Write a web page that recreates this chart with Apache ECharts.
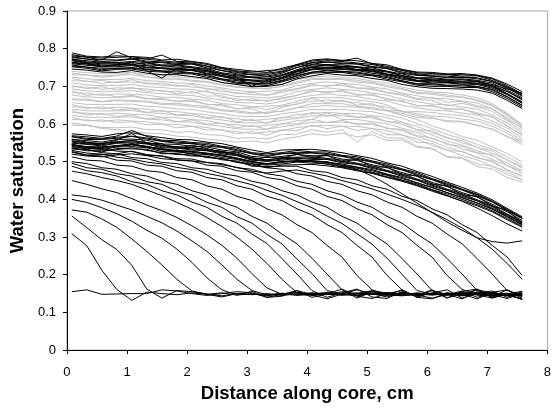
<!DOCTYPE html>
<html><head><meta charset="utf-8">
<script src="https://cdn.jsdelivr.net/npm/echarts@6/dist/echarts.min.js"></script>
<style>html,body{margin:0;padding:0;background:#fff}#c{width:554px;height:408px}</style>
</head><body><div id="c"></div>
<script>
// Distance along core (cm) at which each saturation profile was sampled
const distance = [0.08,0.33,0.58,0.83,1.08,1.33,1.58,1.83,2.08,2.33,2.58,2.83,3.08,3.33,3.58,3.83,4.08,4.33,4.58,4.83,5.08,5.33,5.58,5.83,6.08,6.33,6.58,6.83,7.08,7.33,7.58];

const xTickLabels = ['0','1','2','3','4','5','6','7','8'];
const yTickLabels = ['0','0.1','0.2','0.3','0.4','0.5','0.6','0.7','0.8','0.9'];

// Upper black band of profiles
const topBand = [
[0.789,0.780,0.778,0.781,0.779,0.777,0.770,0.772,0.766,0.761,0.750,0.745,0.741,0.737,0.748,0.758,0.770,0.773,0.769,0.768,0.761,0.757,0.745,0.738,0.737,0.733,0.734,0.730,0.722,0.706,0.686],
[0.781,0.777,0.770,0.792,0.775,0.772,0.768,0.764,0.762,0.754,0.747,0.739,0.735,0.735,0.740,0.755,0.763,0.768,0.766,0.762,0.758,0.750,0.742,0.733,0.730,0.731,0.727,0.728,0.716,0.699,0.679],
[0.776,0.773,0.766,0.768,0.772,0.764,0.763,0.758,0.759,0.749,0.742,0.733,0.731,0.727,0.735,0.750,0.758,0.765,0.760,0.759,0.751,0.747,0.735,0.729,0.727,0.723,0.724,0.720,0.713,0.695,0.674],
[0.772,0.768,0.764,0.763,0.766,0.763,0.757,0.757,0.752,0.747,0.736,0.731,0.725,0.725,0.731,0.744,0.757,0.758,0.757,0.752,0.749,0.740,0.733,0.723,0.723,0.719,0.720,0.716,0.709,0.690,0.670],
[0.770,0.763,0.760,0.760,0.764,0.757,0.755,0.751,0.750,0.741,0.734,0.725,0.723,0.719,0.729,0.740,0.751,0.756,0.752,0.750,0.743,0.738,0.728,0.721,0.717,0.716,0.714,0.714,0.703,0.687,0.664],
[0.764,0.760,0.754,0.758,0.757,0.755,0.749,0.748,0.743,0.739,0.728,0.723,0.716,0.717,0.722,0.738,0.746,0.750,0.750,0.744,0.741,0.732,0.725,0.715,0.715,0.711,0.712,0.708,0.701,0.681,0.659],
[0.760,0.756,0.752,0.752,0.755,0.749,0.747,0.743,0.742,0.733,0.726,0.717,0.714,0.711,0.720,0.732,0.744,0.746,0.745,0.742,0.735,0.729,0.719,0.713,0.709,0.709,0.706,0.705,0.695,0.678,0.655],
[0.757,0.751,0.748,0.748,0.750,0.746,0.741,0.741,0.736,0.731,0.720,0.715,0.709,0.708,0.716,0.729,0.738,0.743,0.740,0.738,0.731,0.726,0.715,0.707,0.707,0.703,0.704,0.700,0.692,0.673,0.650],
[0.752,0.748,0.741,0.745,0.746,0.740,0.738,0.734,0.733,0.724,0.717,0.708,0.706,0.702,0.712,0.723,0.735,0.737,0.737,0.731,0.728,0.719,0.712,0.703,0.700,0.700,0.697,0.697,0.686,0.668,0.645],
[0.746,0.743,0.738,0.737,0.742,0.735,0.731,0.731,0.726,0.721,0.710,0.705,0.699,0.700,0.705,0.720,0.728,0.734,0.730,0.728,0.721,0.716,0.705,0.699,0.695,0.694,0.693,0.690,0.682,0.663,0.641],
[0.768,0.761,0.757,0.756,0.762,0.741,0.722,0.748,0.745,0.742,0.729,0.722,0.700,0.716,0.724,0.740,0.750,0.751,0.752,0.745,0.744,0.733,0.727,0.716,0.717,0.713,0.711,0.712,0.700,0.686,0.667],
[0.773,0.765,0.762,0.764,0.758,0.762,0.754,0.755,0.749,0.745,0.732,0.728,0.725,0.721,0.728,0.742,0.753,0.757,0.753,0.752,0.745,0.740,0.729,0.721,0.720,0.717,0.718,0.713,0.705,0.693,0.682],
[0.779,0.772,0.771,0.770,0.774,0.767,0.765,0.761,0.760,0.753,0.742,0.737,0.731,0.731,0.738,0.750,0.762,0.764,0.762,0.760,0.753,0.748,0.738,0.731,0.727,0.727,0.724,0.723,0.713,0.697,0.676],
[0.762,0.759,0.752,0.756,0.757,0.751,0.749,0.745,0.744,0.735,0.728,0.719,0.717,0.713,0.723,0.734,0.746,0.748,0.747,0.743,0.739,0.731,0.722,0.714,0.712,0.710,0.709,0.707,0.698,0.680,0.657],
[0.754,0.751,0.744,0.748,0.748,0.744,0.740,0.738,0.735,0.728,0.719,0.711,0.708,0.706,0.714,0.727,0.737,0.741,0.739,0.735,0.730,0.723,0.714,0.706,0.704,0.702,0.701,0.699,0.690,0.672,0.649],
[0.784,0.778,0.775,0.777,0.779,0.773,0.783,0.766,0.765,0.758,0.749,0.741,0.738,0.742,0.744,0.757,0.767,0.771,0.768,0.775,0.760,0.753,0.744,0.736,0.734,0.732,0.731,0.729,0.720,0.702,0.680]
];

// Grey profiles, upper cluster
const greyUpper = [
[0.740,0.736,0.734,0.735,0.737,0.731,0.729,0.726,0.723,0.719,0.710,0.707,0.702,0.703,0.706,0.718,0.724,0.728,0.724,0.721,0.714,0.709,0.698,0.690,0.685,0.683,0.677,0.670,0.654,0.629,0.598],
[0.735,0.730,0.728,0.730,0.731,0.725,0.722,0.722,0.716,0.713,0.704,0.700,0.695,0.695,0.701,0.712,0.720,0.722,0.720,0.716,0.710,0.703,0.694,0.684,0.682,0.677,0.672,0.664,0.650,0.626,0.596],
[0.731,0.730,0.724,0.728,0.737,0.725,0.719,0.719,0.714,0.711,0.703,0.697,0.696,0.693,0.700,0.708,0.718,0.718,0.718,0.711,0.708,0.699,0.692,0.681,0.679,0.673,0.671,0.662,0.648,0.623,0.593],
[0.725,0.720,0.718,0.718,0.721,0.715,0.713,0.709,0.708,0.701,0.696,0.689,0.686,0.687,0.690,0.702,0.708,0.712,0.708,0.705,0.698,0.693,0.682,0.675,0.669,0.667,0.661,0.656,0.640,0.617,0.587],
[0.722,0.712,0.716,0.709,0.718,0.706,0.709,0.700,0.705,0.692,0.693,0.680,0.684,0.676,0.688,0.694,0.705,0.700,0.707,0.696,0.695,0.684,0.680,0.668,0.670,0.658,0.660,0.648,0.641,0.612,0.590],
[0.715,0.714,0.708,0.712,0.711,0.709,0.703,0.703,0.698,0.695,0.686,0.683,0.678,0.677,0.684,0.692,0.702,0.702,0.702,0.695,0.692,0.683,0.676,0.665,0.663,0.648,0.655,0.646,0.634,0.609,0.581],
[0.709,0.704,0.702,0.702,0.705,0.699,0.697,0.693,0.692,0.685,0.680,0.673,0.672,0.669,0.674,0.686,0.692,0.696,0.692,0.689,0.682,0.677,0.666,0.659,0.653,0.651,0.645,0.640,0.624,0.603,0.575],
[0.702,0.694,0.699,0.690,0.697,0.687,0.690,0.680,0.686,0.674,0.675,0.662,0.667,0.660,0.670,0.676,0.690,0.682,0.690,0.676,0.680,0.664,0.662,0.648,0.650,0.637,0.640,0.626,0.620,0.594,0.571],
[0.699,0.698,0.692,0.696,0.695,0.693,0.687,0.687,0.682,0.688,0.670,0.667,0.662,0.663,0.666,0.676,0.686,0.686,0.686,0.679,0.676,0.667,0.660,0.649,0.647,0.641,0.639,0.630,0.618,0.596,0.569],
[0.693,0.688,0.686,0.686,0.689,0.683,0.681,0.677,0.676,0.669,0.664,0.657,0.656,0.653,0.660,0.670,0.676,0.680,0.676,0.673,0.666,0.661,0.650,0.643,0.637,0.635,0.629,0.624,0.608,0.589,0.562],
[0.688,0.676,0.680,0.672,0.676,0.668,0.668,0.660,0.664,0.652,0.652,0.640,0.645,0.638,0.648,0.652,0.668,0.656,0.664,0.650,0.654,0.637,0.634,0.622,0.617,0.606,0.606,0.596,0.587,0.566,0.552],
[0.683,0.682,0.676,0.680,0.679,0.677,0.671,0.671,0.666,0.663,0.654,0.651,0.646,0.647,0.650,0.660,0.670,0.670,0.670,0.663,0.660,0.651,0.632,0.633,0.631,0.625,0.623,0.614,0.602,0.582,0.556],
[0.677,0.672,0.670,0.670,0.673,0.667,0.665,0.661,0.660,0.653,0.648,0.641,0.640,0.626,0.644,0.654,0.660,0.664,0.660,0.657,0.650,0.645,0.634,0.627,0.621,0.619,0.613,0.608,0.594,0.576,0.551],
[0.667,0.666,0.660,0.664,0.663,0.661,0.655,0.655,0.650,0.647,0.638,0.635,0.630,0.631,0.634,0.644,0.654,0.654,0.654,0.647,0.644,0.635,0.628,0.617,0.615,0.609,0.607,0.598,0.586,0.568,0.545]
];

// Grey profiles, lower cluster
const greyLower = [
[0.664,0.663,0.659,0.662,0.660,0.658,0.652,0.651,0.646,0.643,0.635,0.632,0.627,0.631,0.634,0.643,0.646,0.649,0.646,0.645,0.640,0.635,0.623,0.612,0.595,0.583,0.567,0.557,0.539,0.522,0.499],
[0.657,0.652,0.652,0.652,0.653,0.647,0.645,0.640,0.639,0.632,0.628,0.621,0.620,0.620,0.627,0.632,0.639,0.638,0.639,0.635,0.633,0.624,0.616,0.601,0.588,0.572,0.561,0.546,0.533,0.513,0.491],
[0.652,0.641,0.646,0.637,0.641,0.631,0.636,0.624,0.627,0.617,0.620,0.606,0.612,0.602,0.618,0.616,0.631,0.622,0.628,0.618,0.621,0.606,0.605,0.585,0.582,0.562,0.556,0.538,0.529,0.504,0.487],
[0.646,0.645,0.641,0.645,0.642,0.640,0.634,0.633,0.628,0.625,0.617,0.614,0.609,0.613,0.616,0.625,0.628,0.631,0.628,0.628,0.622,0.617,0.605,0.594,0.577,0.565,0.550,0.539,0.522,0.506,0.483],
[0.640,0.635,0.635,0.635,0.636,0.630,0.628,0.623,0.622,0.615,0.611,0.604,0.603,0.603,0.610,0.615,0.622,0.621,0.622,0.618,0.616,0.607,0.599,0.584,0.571,0.555,0.544,0.529,0.516,0.496,0.476],
[0.635,0.624,0.628,0.620,0.624,0.613,0.617,0.606,0.611,0.600,0.602,0.590,0.596,0.586,0.601,0.600,0.613,0.604,0.610,0.599,0.603,0.588,0.586,0.569,0.563,0.546,0.541,0.524,0.518,0.490,0.474],
[0.630,0.629,0.625,0.629,0.626,0.624,0.618,0.617,0.612,0.609,0.601,0.598,0.593,0.597,0.600,0.609,0.612,0.630,0.612,0.612,0.606,0.601,0.589,0.578,0.561,0.549,0.534,0.523,0.506,0.490,0.468],
[0.623,0.618,0.618,0.618,0.619,0.613,0.611,0.606,0.605,0.598,0.594,0.587,0.586,0.586,0.593,0.598,0.605,0.604,0.605,0.601,0.599,0.590,0.582,0.567,0.554,0.538,0.527,0.512,0.499,0.479,0.461],
[0.618,0.608,0.611,0.604,0.606,0.598,0.600,0.590,0.594,0.584,0.585,0.574,0.580,0.570,0.585,0.582,0.597,0.588,0.594,0.583,0.588,0.572,0.571,0.552,0.549,0.530,0.527,0.510,0.503,0.478,0.462],
[0.612,0.611,0.607,0.611,0.608,0.606,0.600,0.599,0.594,0.591,0.583,0.580,0.575,0.579,0.582,0.591,0.594,0.597,0.594,0.594,0.588,0.583,0.571,0.560,0.543,0.531,0.516,0.505,0.488,0.474,0.452],
[0.602,0.598,0.588,0.585,0.580,0.576,0.574,0.568,0.565,0.560,0.556,0.552,0.555,0.550,0.560,0.566,0.574,0.570,0.576,0.566,0.572,0.556,0.558,0.538,0.534,0.514,0.510,0.494,0.488,0.466,0.452],
[0.597,0.596,0.591,0.590,0.592,0.585,0.585,0.578,0.580,0.572,0.570,0.562,0.564,0.560,0.572,0.573,0.585,0.578,0.585,0.552,0.580,0.563,0.563,0.541,0.536,0.512,0.509,0.487,0.481,0.458,0.446]
];

// Middle black band of profiles
const middleBand = [
[0.574,0.571,0.567,0.574,0.577,0.569,0.564,0.559,0.558,0.552,0.548,0.539,0.531,0.524,0.531,0.532,0.533,0.529,0.524,0.516,0.509,0.497,0.488,0.474,0.461,0.446,0.432,0.417,0.399,0.376,0.354],
[0.569,0.566,0.562,0.568,0.583,0.567,0.557,0.556,0.551,0.549,0.541,0.536,0.524,0.521,0.524,0.530,0.526,0.526,0.517,0.513,0.502,0.494,0.481,0.471,0.455,0.443,0.427,0.414,0.395,0.373,0.351],
[0.567,0.562,0.560,0.565,0.568,0.563,0.555,0.552,0.549,0.545,0.539,0.532,0.522,0.517,0.522,0.525,0.524,0.522,0.515,0.509,0.500,0.490,0.479,0.467,0.453,0.440,0.426,0.412,0.395,0.373,0.350],
[0.566,0.559,0.559,0.562,0.567,0.560,0.554,0.549,0.548,0.541,0.538,0.529,0.521,0.514,0.521,0.522,0.523,0.519,0.514,0.506,0.499,0.487,0.478,0.464,0.452,0.437,0.425,0.409,0.393,0.370,0.349],
[0.559,0.556,0.552,0.559,0.560,0.557,0.547,0.546,0.541,0.539,0.531,0.526,0.514,0.511,0.514,0.519,0.516,0.516,0.507,0.503,0.492,0.484,0.471,0.461,0.445,0.434,0.418,0.406,0.387,0.367,0.344],
[0.556,0.549,0.549,0.552,0.557,0.550,0.544,0.539,0.538,0.532,0.528,0.519,0.511,0.504,0.511,0.512,0.513,0.509,0.504,0.496,0.489,0.477,0.468,0.454,0.442,0.427,0.415,0.399,0.384,0.361,0.341],
[0.552,0.547,0.545,0.550,0.553,0.548,0.540,0.537,0.534,0.530,0.524,0.517,0.507,0.502,0.507,0.510,0.509,0.507,0.500,0.494,0.485,0.475,0.464,0.452,0.438,0.425,0.411,0.397,0.381,0.360,0.339],
[0.549,0.546,0.542,0.549,0.550,0.547,0.537,0.536,0.531,0.529,0.521,0.516,0.504,0.501,0.504,0.509,0.506,0.506,0.497,0.493,0.482,0.474,0.461,0.451,0.435,0.424,0.408,0.396,0.377,0.358,0.336],
[0.546,0.539,0.539,0.542,0.547,0.540,0.534,0.529,0.528,0.522,0.518,0.509,0.501,0.494,0.501,0.502,0.503,0.499,0.494,0.486,0.479,0.467,0.458,0.444,0.432,0.418,0.405,0.390,0.374,0.353,0.332],
[0.543,0.538,0.536,0.541,0.544,0.539,0.531,0.528,0.525,0.521,0.515,0.508,0.498,0.493,0.498,0.501,0.500,0.498,0.491,0.485,0.476,0.466,0.455,0.444,0.431,0.418,0.404,0.391,0.375,0.355,0.334],
[0.539,0.536,0.532,0.539,0.540,0.537,0.527,0.526,0.521,0.519,0.511,0.506,0.494,0.491,0.494,0.499,0.496,0.496,0.487,0.483,0.472,0.464,0.451,0.441,0.426,0.414,0.400,0.386,0.370,0.349,0.329],
[0.536,0.529,0.529,0.532,0.537,0.530,0.524,0.519,0.518,0.512,0.508,0.499,0.491,0.484,0.491,0.492,0.493,0.489,0.484,0.476,0.469,0.458,0.448,0.436,0.422,0.409,0.396,0.383,0.367,0.346,0.326],
[0.560,0.552,0.547,0.557,0.575,0.549,0.548,0.533,0.544,0.535,0.524,0.524,0.505,0.512,0.509,0.520,0.511,0.517,0.500,0.507,0.486,0.486,0.465,0.463,0.440,0.436,0.412,0.408,0.382,0.371,0.337]
];

// Displacement-front profiles, falling to residual saturation
const frontProfiles = [
[0.155,0.160,0.148,0.149,0.150,0.150,0.160,0.157,0.150,0.145,0.150,0.155,0.152,0.140,0.148,0.152,0.150,0.147,0.155,0.150,0.156,0.152,0.147,0.145,0.150,0.148,0.150,0.153,0.147,0.150,0.145],
[0.309,0.277,0.212,0.161,0.132,0.154,0.150,0.147,0.152,0.148,0.141,0.150,0.147,0.150,0.145,0.149,0.152,0.148,0.150,0.146,0.151,0.149,0.145,0.150,0.148,0.146,0.152,0.147,0.138,0.149,0.156],
[0.356,0.325,0.293,0.267,0.225,0.162,0.138,0.158,0.155,0.149,0.144,0.150,0.148,0.146,0.151,0.148,0.145,0.150,0.147,0.152,0.148,0.145,0.150,0.147,0.149,0.146,0.151,0.148,0.145,0.149,0.147],
[0.372,0.366,0.348,0.326,0.295,0.262,0.226,0.188,0.157,0.148,0.152,0.146,0.150,0.144,0.149,0.153,0.147,0.150,0.146,0.149,0.158,0.147,0.144,0.150,0.148,0.151,0.146,0.149,0.147,0.137,0.150],
[0.400,0.392,0.378,0.362,0.342,0.318,0.297,0.268,0.233,0.192,0.160,0.146,0.156,0.140,0.143,0.158,0.147,0.136,0.149,0.160,0.150,0.141,0.153,0.146,0.138,0.147,0.157,0.140,0.151,0.146,0.136],
[0.412,0.407,0.398,0.385,0.372,0.355,0.338,0.316,0.290,0.262,0.226,0.188,0.158,0.147,0.150,0.145,0.149,0.153,0.148,0.144,0.150,0.147,0.151,0.149,0.146,0.150,0.145,0.160,0.152,0.147,0.143],
[0.450,0.440,0.428,0.418,0.402,0.385,0.370,0.352,0.330,0.306,0.278,0.244,0.203,0.165,0.148,0.158,0.140,0.149,0.162,0.143,0.137,0.150,0.158,0.141,0.152,0.160,0.138,0.150,0.157,0.140,0.155],
[0.475,0.468,0.458,0.450,0.440,0.425,0.410,0.392,0.374,0.352,0.328,0.300,0.268,0.230,0.188,0.152,0.147,0.151,0.146,0.150,0.148,0.153,0.145,0.149,0.147,0.151,0.146,0.150,0.144,0.148,0.152],
[0.488,0.476,0.471,0.462,0.447,0.440,0.423,0.412,0.393,0.379,0.355,0.337,0.308,0.283,0.243,0.202,0.158,0.140,0.152,0.162,0.141,0.137,0.155,0.146,0.160,0.139,0.149,0.136,0.153,0.160,0.142],
[0.496,0.484,0.480,0.468,0.462,0.447,0.440,0.422,0.412,0.392,0.379,0.354,0.337,0.307,0.282,0.242,0.203,0.158,0.149,0.145,0.151,0.148,0.146,0.152,0.147,0.150,0.144,0.149,0.153,0.146,0.148],
[0.500,0.495,0.484,0.480,0.468,0.462,0.448,0.440,0.423,0.412,0.393,0.379,0.355,0.337,0.308,0.282,0.244,0.202,0.160,0.138,0.155,0.146,0.160,0.140,0.136,0.152,0.147,0.161,0.139,0.150,0.134],
[0.513,0.504,0.502,0.491,0.488,0.476,0.472,0.458,0.452,0.436,0.427,0.408,0.397,0.375,0.359,0.333,0.312,0.278,0.247,0.198,0.160,0.148,0.152,0.145,0.150,0.147,0.153,0.146,0.149,0.144,0.150],
[0.525,0.517,0.515,0.504,0.502,0.491,0.488,0.476,0.472,0.458,0.452,0.436,0.427,0.408,0.397,0.375,0.359,0.333,0.312,0.278,0.247,0.198,0.160,0.140,0.158,0.148,0.136,0.155,0.141,0.160,0.137],
[0.530,0.523,0.520,0.512,0.507,0.499,0.494,0.485,0.479,0.469,0.461,0.449,0.439,0.424,0.411,0.394,0.378,0.356,0.336,0.309,0.281,0.244,0.201,0.158,0.148,0.151,0.146,0.149,0.152,0.145,0.148],
[0.535,0.532,0.524,0.521,0.511,0.508,0.498,0.495,0.484,0.480,0.468,0.462,0.448,0.440,0.423,0.412,0.393,0.379,0.355,0.337,0.308,0.282,0.243,0.202,0.158,0.138,0.156,0.162,0.140,0.147,0.135],
[0.541,0.534,0.535,0.528,0.527,0.517,0.515,0.504,0.502,0.491,0.488,0.476,0.472,0.458,0.452,0.436,0.427,0.408,0.397,0.375,0.359,0.333,0.312,0.278,0.247,0.198,0.161,0.147,0.150,0.146,0.149],
[0.527,0.518,0.519,0.521,0.528,0.519,0.515,0.508,0.507,0.498,0.495,0.484,0.480,0.468,0.462,0.448,0.440,0.423,0.412,0.393,0.379,0.355,0.337,0.308,0.282,0.243,0.202,0.158,0.148,0.151,0.145],
[0.546,0.538,0.539,0.541,0.548,0.539,0.535,0.528,0.521,0.511,0.508,0.498,0.495,0.484,0.480,0.468,0.462,0.448,0.440,0.423,0.412,0.393,0.379,0.355,0.337,0.308,0.282,0.243,0.202,0.158,0.146],
[0.534,0.532,0.526,0.535,0.534,0.533,0.521,0.522,0.515,0.515,0.505,0.502,0.488,0.487,0.488,0.488,0.476,0.472,0.458,0.452,0.436,0.427,0.408,0.397,0.375,0.359,0.333,0.312,0.278,0.247,0.198],
[0.520,0.515,0.513,0.518,0.521,0.516,0.508,0.505,0.502,0.498,0.492,0.485,0.475,0.470,0.475,0.478,0.470,0.462,0.450,0.440,0.428,0.414,0.400,0.384,0.366,0.346,0.324,0.298,0.268,0.230,0.188],
[0.545,0.540,0.538,0.543,0.546,0.541,0.533,0.530,0.527,0.523,0.517,0.510,0.500,0.495,0.500,0.503,0.502,0.500,0.490,0.480,0.462,0.440,0.415,0.390,0.365,0.340,0.318,0.298,0.288,0.284,0.290],
[0.555,0.550,0.548,0.553,0.556,0.551,0.543,0.540,0.537,0.533,0.527,0.520,0.510,0.505,0.510,0.506,0.500,0.493,0.486,0.478,0.470,0.460,0.450,0.438,0.425,0.410,0.395,0.377,0.357,0.335,0.316]
];

const FONT = '"Liberation Sans", Arial, sans-serif';
function toSeries(profiles, color) {
  return profiles.map(ys => ({
    type: 'line',
    data: ys.map((y, i) => [distance[i], y]),
    symbol: 'none',
    silent: true,
    lineStyle: { color: color, width: 1 },
    emphasis: { disabled: true }
  }));
}

const series = [].concat(
  toSeries(greyUpper, '#c0c0c0'),
  toSeries(greyLower, '#c0c0c0'),
  toSeries(topBand, '#000000'),
  toSeries(middleBand, '#000000'),
  toSeries(frontProfiles, '#000000')
);

const chart = echarts.init(document.getElementById('c'), null, { renderer: 'canvas' });
chart.setOption({
  animation: false,
  backgroundColor: '#ffffff',
  grid: { left: 65, top: 11, width: 487, height: 342, show: true, borderColor: '#a6a6a6', borderWidth: 1, containLabel: false },
  xAxis: {
    type: 'value', min: 0, max: 8, interval: 1,
    name: 'Distance along core, cm', nameLocation: 'middle', nameGap: 31,
    nameTextStyle: { fontFamily: FONT, fontSize: 18.5, fontWeight: 'bold', color: '#000' },
    axisLine: { lineStyle: { color: '#000', width: 1 } },
    axisTick: { show: true, inside: false, length: 4, lineStyle: { color: '#000' } },
    axisLabel: { fontFamily: FONT, fontSize: 13, color: '#000', margin: 16, formatter: v => xTickLabels[Math.round(v)] },
    splitLine: { show: false }
  },
  yAxis: {
    type: 'value', min: 0, max: 0.9, interval: 0.1,
    name: 'Water saturation', nameLocation: 'middle', nameGap: 38,
    nameTextStyle: { fontFamily: FONT, fontSize: 18.5, fontWeight: 'bold', color: '#000' },
    axisLine: { show: true, lineStyle: { color: '#000', width: 1 } },
    axisTick: { show: true, inside: false, length: 4, lineStyle: { color: '#000' } },
    axisLabel: { fontFamily: FONT, fontSize: 13, color: '#000', margin: 11, formatter: v => yTickLabels[Math.round(v * 10)] },
    splitLine: { show: false }
  },
  series: series
});
</script></body></html>
